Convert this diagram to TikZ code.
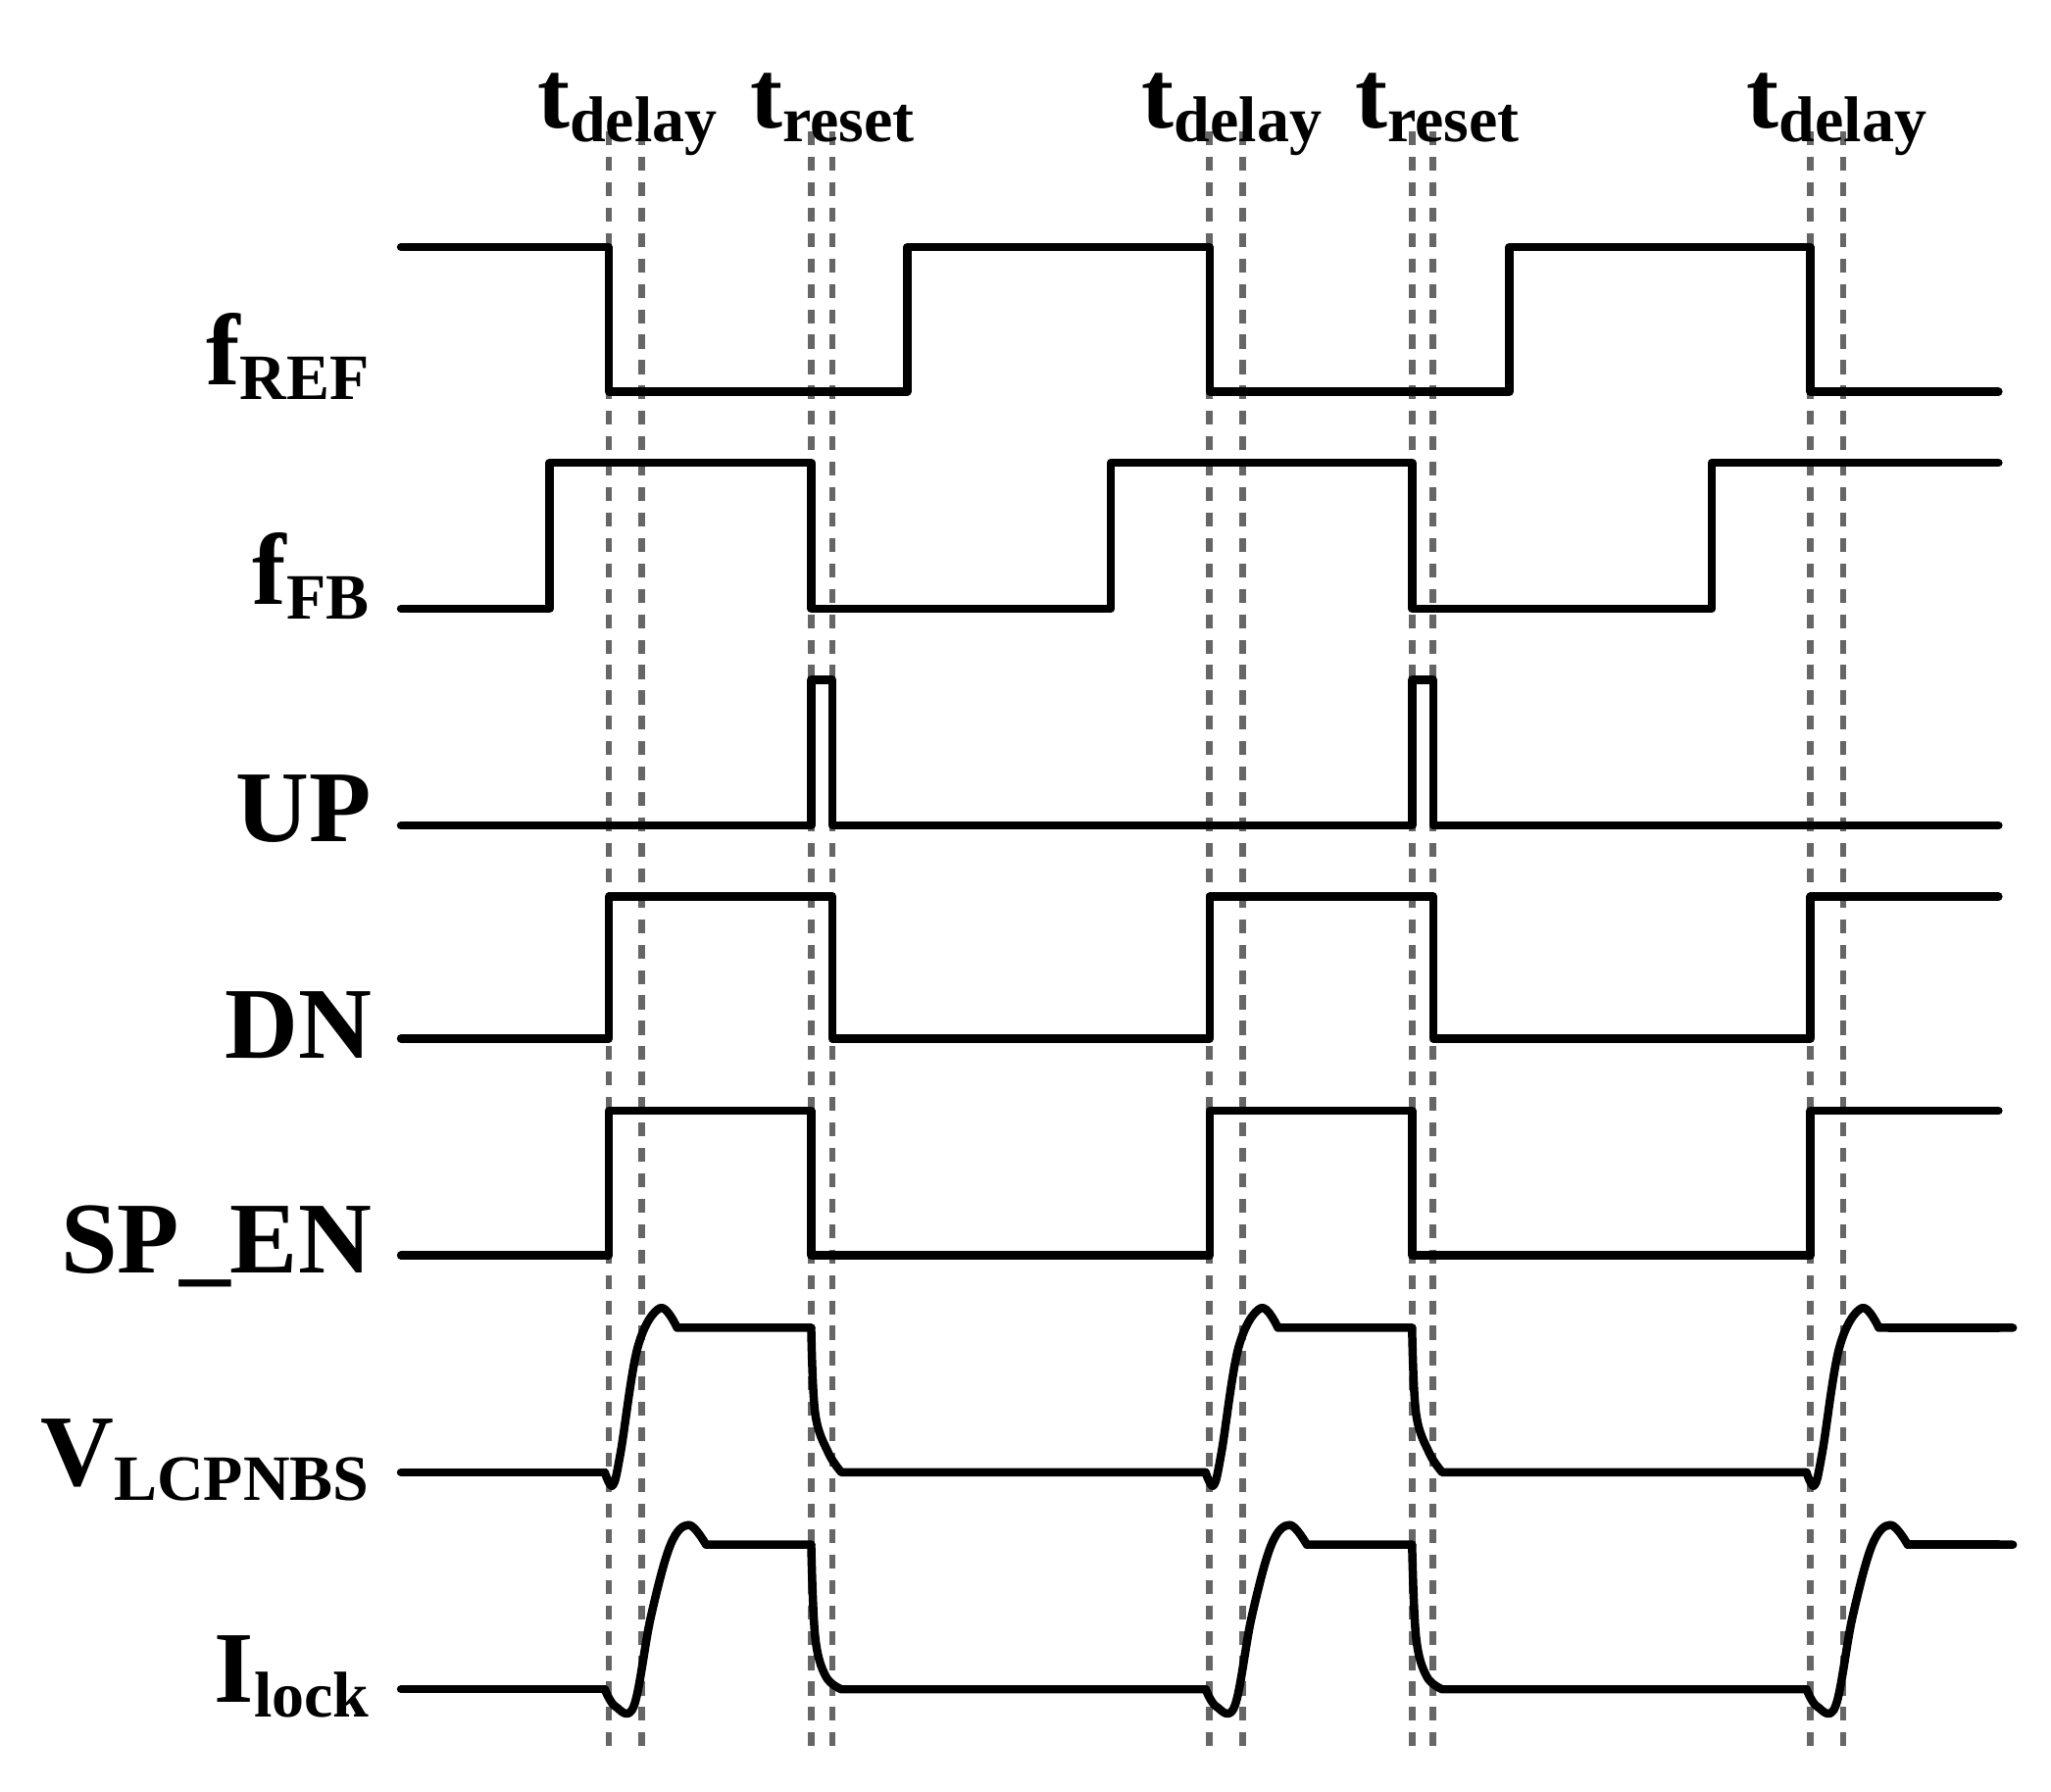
\documentclass[tikz,border=0pt]{standalone}
\usepackage{fontspec}
\setmainfont{Liberation Serif}
\begin{document}
\begin{tikzpicture}[y=-1cm,
  sig/.style={line width=1.8pt,line cap=round,line join=round},
  guide/.style={line width=1.4pt,dash pattern=on 3pt off 2.5pt,gray!80!black},
  lbl/.style={anchor=base east,font=\fontsize{22}{24}\selectfont\bfseries},
  tlbl/.style={anchor=base west,font=\fontsize{21}{23}\selectfont\bfseries,inner sep=0pt}]
\useasboundingbox (0,0) rectangle (15.6,13.63);
% guides
\foreach \x in {4.63,4.88,6.17,6.33,9.20,9.45,10.74,10.90,13.77,14.02}
  \draw[guide] (\x,1.0) -- (\x,13.3);
% time labels
\node[tlbl] (td1) at (4.08,0.97) {t\textsubscript{\fontsize{14}{14}\selectfont delay}};
\node[tlbl] (tr1) at (5.70,0.97) {t\textsubscript{\fontsize{14}{14}\selectfont reset}};
\node[tlbl] (td2) at (8.68,0.97) {t\textsubscript{\fontsize{14}{14}\selectfont delay}};
\node[tlbl] (tr2) at (10.30,0.97) {t\textsubscript{\fontsize{14}{14}\selectfont reset}};
\node[tlbl] (td3) at (13.28,0.97) {t\textsubscript{\fontsize{14}{14}\selectfont delay}};
% signal names
\node[lbl] (fref) at (2.95,2.93) {f\textsubscript{\fontsize{14}{14}\selectfont REF}};
\node[lbl] (ffb) at (2.95,4.60) {f\textsubscript{\fontsize{14}{14}\selectfont FB}};
\node[lbl] (up) at (2.95,6.40) {UP};
\node[lbl] (dn) at (2.95,8.05) {DN};
\node[lbl] (spen) at (2.95,9.68) {SP\_EN};
\node[lbl] (vl) at (2.95,11.30) {V\textsubscript{\fontsize{14}{14}\selectfont LCPNBS}};
\node[lbl] (il) at (2.95,12.95) {I\textsubscript{\fontsize{14}{14}\selectfont lock}};
% digital waveforms
\draw[sig] (3.05,1.88) -| (4.63,2.98) -| (6.90,1.88) -| (9.20,2.98) -| (11.48,1.88) -| (13.77,2.98) -- (15.20,2.98);
\draw[sig] (3.05,4.63) -| (4.18,3.52) -| (6.17,4.63) -| (8.45,3.52) -| (10.74,4.63) -| (13.02,3.52) -- (15.20,3.52);
\draw[sig] (3.05,6.28) -| (6.17,5.17) -| (6.33,6.28) -| (10.74,5.17) -| (10.90,6.28) -- (15.20,6.28);
\draw[sig] (3.05,7.90) -| (4.63,6.82) -| (6.33,7.90) -| (9.20,6.82) -| (10.90,7.90) -| (13.77,6.82) -- (15.20,6.82);
\draw[sig] (3.05,9.55) -| (4.63,8.45) -| (6.17,9.55) -| (9.20,8.45) -| (10.74,9.55) -| (13.77,8.45) -- (15.20,8.45);
% analog waveforms
\draw[sig] (3.05,11.20) -- (4.60,11.20);
\draw[sig] (3.05,12.85) -- (4.60,12.85);
\foreach \o in {0,4.57,9.14} {
  \draw[sig,xshift=\o cm] plot[smooth,tension=0.6] coordinates {(4.60,11.20) (4.66,11.30) (4.72,11.05) (4.85,10.25) (5.02,9.95) (5.15,10.10)} -- (6.17,10.10);
  \draw[sig,xshift=\o cm] plot[smooth,tension=0.6] coordinates {(4.60,12.85) (4.68,12.98) (4.82,12.98) (4.95,12.30) (5.10,11.75) (5.24,11.60) (5.37,11.75)} -- (6.17,11.75);
}
\foreach \o in {0,4.57} {
  \draw[sig,xshift=\o cm] plot[smooth,tension=0.6] coordinates {(6.17,10.10) (6.20,10.75) (6.30,11.05) (6.40,11.20)} -- (9.17,11.20);
  \draw[sig,xshift=\o cm] plot[smooth,tension=0.6] coordinates {(6.17,11.75) (6.20,12.45) (6.28,12.75) (6.40,12.85)} -- (9.17,12.85);
}
\draw[sig] (14.37,10.10) -- (15.20,10.10);
\draw[sig] (14.51,11.75) -- (15.20,11.75);
\end{tikzpicture}
\end{document}
